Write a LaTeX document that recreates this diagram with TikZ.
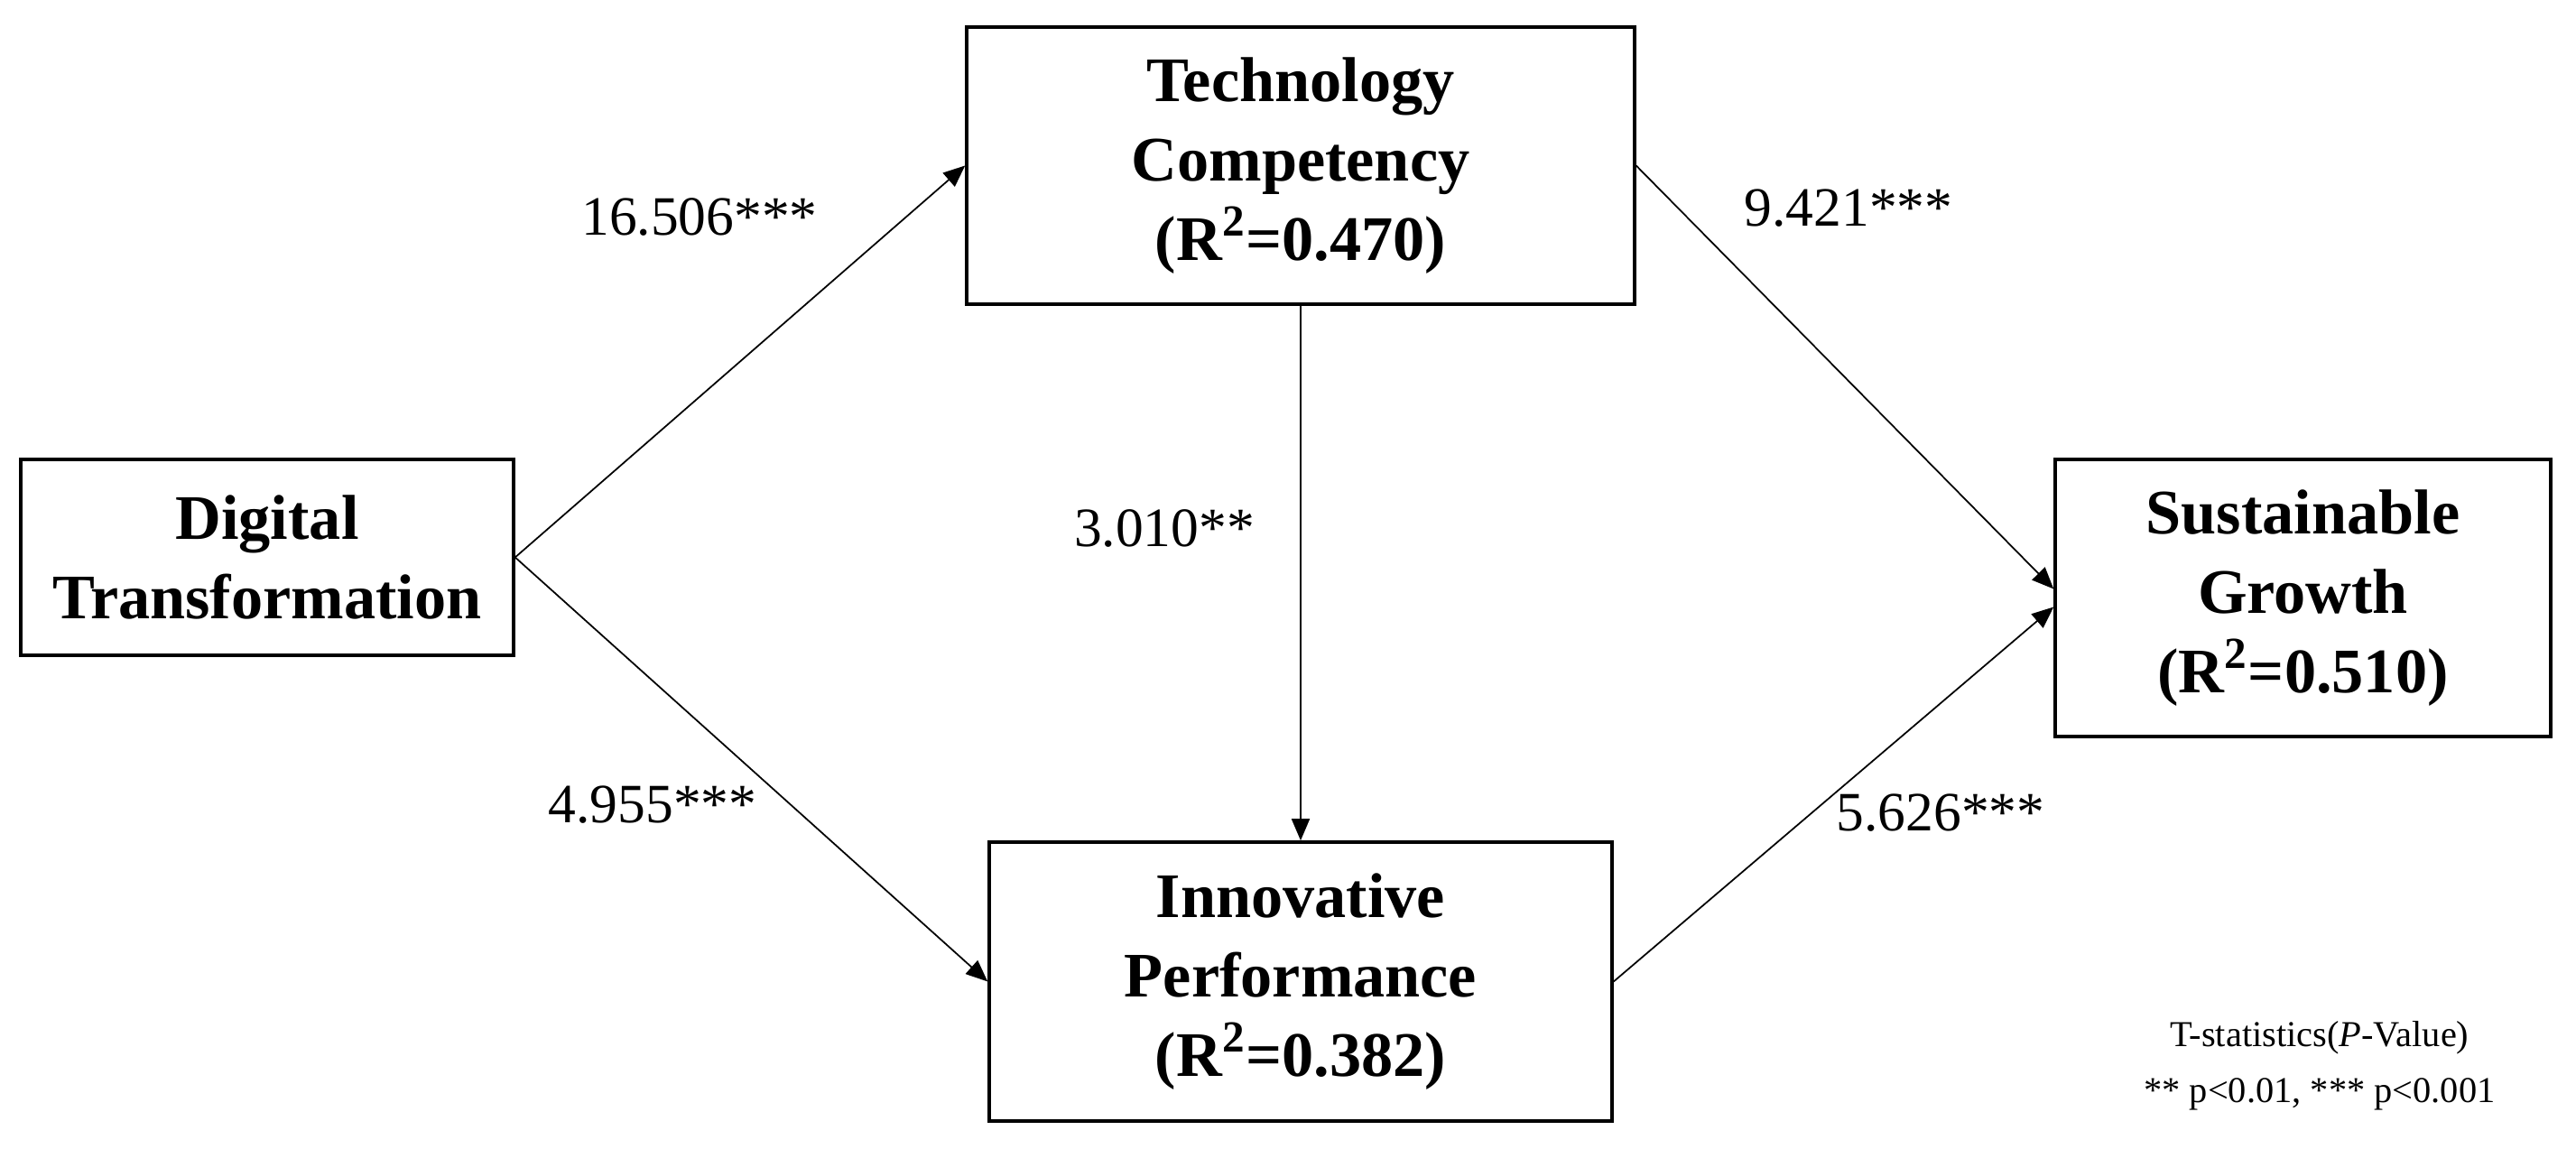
\documentclass[tikz,border=0pt]{standalone}
\usepackage{fontspec}
\setmainfont{Liberation Serif}
\usepackage{tikz}
\usetikzlibrary{arrows.meta}
\tikzstyle{box} = [draw=black, line width=1pt, rectangle, align=center, inner sep=2pt, font=\fontsize{20}{25}\selectfont\bfseries]
\tikzstyle{arrow} = [line width=0.5pt, -{Triangle[length=0.24cm,width=0.2cm]}]
\tikzstyle{lbl} = [inner sep=0pt, font=\fontsize{17.5}{21}\selectfont]

\begin{document}
\begin{tikzpicture}
\useasboundingbox (0,0) rectangle (28.54,12.73);
% constructs
\node[box, minimum width=5.46cm, minimum height=2.17cm] (dt) at (2.96,6.555) {Digital\\Transformation};
\node[box, minimum width=7.40cm, minimum height=3.07cm] (tc) at (14.41,10.895) {Technology\\Competency\\(R\textsuperscript{2}=0.470)};
\node[box, minimum width=6.90cm, minimum height=3.09cm] (ip) at (14.41,1.855) {Innovative\\Performance\\(R\textsuperscript{2}=0.382)};
\node[box, minimum width=5.49cm, minimum height=3.07cm] (sg) at (25.515,6.105) {Sustainable\\Growth\\(R\textsuperscript{2}=0.510)};
% path coefficients
\node[lbl] (p1) at (7.75,10.33) {16.506***};
\node[lbl] (p2) at (20.48,10.42) {9.421***};
\node[lbl] (p3) at (12.9,6.88) {3.010**};
\node[lbl] (p4) at (7.23,3.81) {4.955***};
\node[lbl] (p5) at (21.5,3.72) {5.626***};
% legend
\node[align=center, font=\fontsize{11.5}{13.5}\selectfont] (note) at (25.7,0.92) {T-statistics(\textit{P}-Value)\\[0.8ex]** p<0.01, *** p<0.001};
\draw[arrow] (dt.east) -- (tc.west);
\draw[arrow] (dt.east) -- (ip.west);
\draw[arrow] (tc.south) -- (ip.north);
\draw[arrow] (tc.east) -- ([yshift=0.1cm]sg.west);
\draw[arrow] (ip.east) -- ([yshift=-0.1cm]sg.west);
\end{tikzpicture}
\end{document}
